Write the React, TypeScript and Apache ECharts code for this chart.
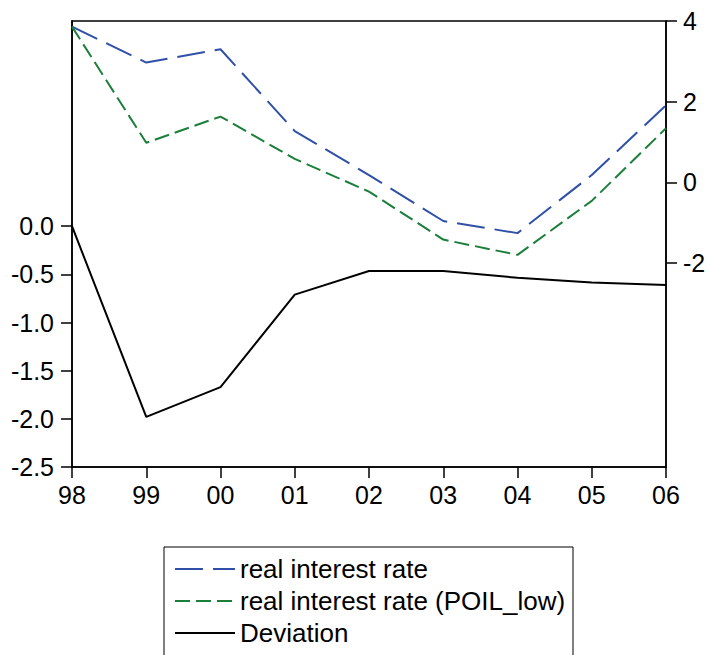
import React, { useEffect, useRef } from "react";
import * as echarts from "echarts";

const years = ["98", "99", "00", "01", "02", "03", "04", "05", "06"];
const realRate = [3.86, 2.97, 3.3, 1.27, 0.18, -0.96, -1.26, 0.18, 1.91];
const realRateLow = [3.86, 0.98, 1.63, 0.58, -0.23, -1.42, -1.8, -0.46, 1.34];
const deviation = [0.0, -1.98, -1.67, -0.71, -0.465, -0.465, -0.535, -0.585, -0.61];
const leftTicks = [-2.5, -2.0, -1.5, -1.0, -0.5, 0.0];
const rightTicks = [-2, 0, 2, 4];

const FONT = "Liberation Sans, Arial, sans-serif";

export default function App() {
  const ref = useRef<HTMLDivElement>(null);
  useEffect(() => {
    if (!ref.current) return;
    const chart = echarts.init(ref.current, undefined, { renderer: "svg" });
    chart.setOption({
      animation: false,
      backgroundColor: "#fff",
      textStyle: { fontFamily: FONT },
      grid: {
        left: 72,
        top: 21,
        right: 44,
        bottom: 188,
        show: true,
        borderColor: "#000",
        borderWidth: 1.5,
        containLabel: false,
      },
      graphic: [
        {
          type: "rect",
          shape: { x: 164, y: 547, width: 409, height: 130 },
          style: { fill: "none", stroke: "#000", lineWidth: 1 },
          silent: true,
        },
      ],
      legend: {
        orient: "vertical",
        left: 174,
        top: 556,
        itemWidth: 60,
        itemHeight: 14,
        itemGap: 6,
        padding: 0,
        itemStyle: { opacity: 0 },
        textStyle: { fontSize: 26, lineHeight: 26, color: "#000", fontFamily: FONT },
        data: ["real interest rate", "real interest rate (POIL_low)", "Deviation"],
      },
      xAxis: {
        type: "category",
        data: years,
        boundaryGap: false,
        axisLine: { show: true, onZero: false, lineStyle: { color: "#000", width: 1.5 } },
        axisTick: { show: true, inside: false, length: 11, alignWithLabel: true, lineStyle: { color: "#000", width: 1.5 } },
        axisLabel: { color: "#000", fontSize: 25, margin: 15, fontFamily: FONT },
        splitLine: { show: false },
      },
      yAxis: [
        {
          type: "value",
          position: "left",
          min: -2.5,
          max: 2.131,
          axisLine: { show: true, lineStyle: { color: "#000", width: 1.5 } },
          axisTick: {
            show: true,
            length: 11,
            customValues: leftTicks,
            lineStyle: { color: "#000", width: 1.5 },
          },
          axisLabel: {
            color: "#000",
            fontSize: 25,
            margin: 18,
            customValues: leftTicks,
            fontFamily: FONT,
            formatter: (v: number) => v.toFixed(1),
          },
          splitLine: { show: false },
        },
        {
          type: "value",
          position: "right",
          min: -7.06,
          max: 4,
          axisLine: { show: true, lineStyle: { color: "#000", width: 1.5 } },
          axisTick: {
            show: true,
            length: 11,
            customValues: rightTicks,
            lineStyle: { color: "#000", width: 1.5 },
          },
          axisLabel: {
            color: "#000",
            fontSize: 25,
            margin: 17,
            customValues: rightTicks,
            fontFamily: FONT,
            formatter: (v: number) => String(Math.round(v)),
          },
          splitLine: { show: false },
        },
      ],
      series: [
        {
          name: "real interest rate",
          type: "line",
          yAxisIndex: 1,
          data: realRate,
          symbol: "none",
          itemStyle: { color: "#3050a8" },
          lineStyle: { color: "#3050a8", width: 2, type: [28, 10] },
        },
        {
          name: "real interest rate (POIL_low)",
          type: "line",
          yAxisIndex: 1,
          data: realRateLow,
          symbol: "none",
          itemStyle: { color: "#1b7f3a" },
          lineStyle: { color: "#1b7f3a", width: 2, type: [15, 6] },
        },
        {
          name: "Deviation",
          type: "line",
          yAxisIndex: 0,
          data: deviation,
          symbol: "none",
          itemStyle: { color: "#000" },
          lineStyle: { color: "#000", width: 2, type: "solid" },
        },
      ],
    });
    return () => chart.dispose();
  }, []);
  return <div ref={ref} style={{ width: 710, height: 655, position: "absolute", left: 0, top: 0 }} />;
}
